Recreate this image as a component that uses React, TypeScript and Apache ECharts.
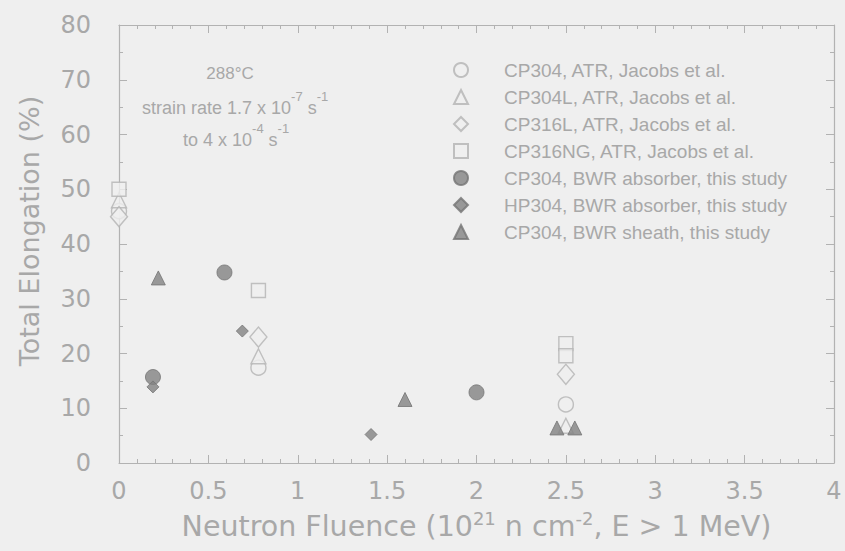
import React, { useEffect, useRef } from "react";
import * as echarts from "echarts";

// Total elongation (%) vs. neutron fluence (10^21 n/cm^2, E > 1 MeV)
const seriesNames = [
  "CP304, ATR, Jacobs et al.",
  "CP304L, ATR, Jacobs et al.",
  "CP316L, ATR, Jacobs et al.",
  "CP316NG, ATR, Jacobs et al.",
  "CP304, BWR absorber, this study",
  "HP304, BWR absorber, this study",
  "CP304, BWR sheath, this study",
];

const cp304Atr: number[][] = [[0, 46], [0.78, 17.4], [2.5, 10.7]];
const cp304lAtr: number[][] = [[0, 48], [0.78, 19.5], [2.5, 6.8]];
const cp316lAtr: number[][] = [[0, 45], [0.78, 23], [2.5, 16.2]];
const cp316ngAtr: number[][] = [[0, 50], [0.78, 31.5], [2.5, 21.8], [2.5, 19.6]];
const cp304Absorber: number[][] = [[0.19, 15.7], [0.59, 34.8], [2.0, 12.9]];
const hp304Absorber: number[][] = [[0.19, 13.9], [0.69, 24.1], [1.41, 5.2]];
const cp304Sheath: number[][] = [[0.22, 33.8], [1.6, 11.6], [2.45, 6.4], [2.55, 6.4]];

const xMin = 0;
const xMax = 4;
const xStep = 0.5;
const yMin = 0;
const yMax = 80;
const yStep = 10;

const BG = "#efefef";
const TEXT = "#a8a8a8";
const AXIS = "#b2b2b2";
const OPEN = "#b3b3b3";
const FILLED = "#828282";

const openStyle = { color: BG, borderColor: OPEN, borderWidth: 1.4 };
const filledStyle = { color: FILLED, borderColor: "#747474", borderWidth: 1 };

const frameAxis = (extra: any) => ({
  axisLine: { show: true, onZero: false, lineStyle: { color: AXIS, width: 1.2 } },
  axisTick: { show: true, inside: true, length: 8, lineStyle: { color: AXIS } },
  splitLine: { show: false },
  ...extra,
});

export default function App() {
  const ref = useRef<HTMLDivElement>(null);

  useEffect(() => {
    document.body.style.margin = "0";
    const chart = echarts.init(ref.current!, null, { renderer: "svg" });

    const xCommon = { type: "value", min: xMin, max: xMax, interval: xStep };
    const yCommon = { type: "value", min: yMin, max: yMax, interval: yStep };
    const xMinor = { show: true, splitNumber: 5, length: 4, lineStyle: { color: AXIS } };
    const yMinor = { show: true, splitNumber: 2, length: 4, lineStyle: { color: AXIS } };

    chart.setOption({
      animation: false,
      backgroundColor: BG,
      textStyle: { fontFamily: "Liberation Sans" },
      grid: { left: 119, right: 11, top: 25, bottom: 88 },
      xAxis: [
        frameAxis({
          ...xCommon,
          position: "bottom",
          minorTick: xMinor,
          axisLabel: {
            color: TEXT,
            fontSize: 24,
            fontFamily: "DejaVu Sans",
            margin: 16,
          },
          name: "{n|Neutron Fluence (10}{s|21}{n| n cm}{s|-2}{n|, E > 1 MeV)}",
          nameLocation: "middle",
          nameGap: 46,
          nameTextStyle: {
            rich: {
              n: { fontSize: 28.5, lineHeight: 34, color: TEXT, fontFamily: "DejaVu Sans" },
              s: { fontSize: 18, lineHeight: 34, color: TEXT, fontFamily: "DejaVu Sans", verticalAlign: "top" },
            },
          },
        }),
        frameAxis({
          ...xCommon,
          position: "top",
          minorTick: xMinor,
          axisLabel: { show: false },
        }),
      ],
      yAxis: [
        frameAxis({
          ...yCommon,
          position: "left",
          minorTick: yMinor,
          axisLabel: {
            color: TEXT,
            fontSize: 24,
            fontFamily: "DejaVu Sans",
            margin: 28,
          },
          name: "Total Elongation (%)",
          nameLocation: "middle",
          nameGap: 76,
          nameTextStyle: {
            color: TEXT,
            fontSize: 27,
            fontFamily: "DejaVu Sans",
            padding: [0, 0, 0, 26],
          },
        }),
        frameAxis({
          ...yCommon,
          position: "right",
          minorTick: yMinor,
          axisLabel: { show: false },
        }),
      ],
      legend: {
        orient: "vertical",
        left: 448,
        top: 55,
        itemWidth: 14,
        itemHeight: 14,
        itemGap: 7,
        selectedMode: false,
        data: seriesNames,
        textStyle: {
          color: TEXT,
          fontSize: 19,
          lineHeight: 20,
          fontFamily: "Liberation Sans",
          padding: [0, 0, 0, 31],
        },
      },
      graphic: [
        {
          type: "text",
          x: 230,
          y: 73,
          style: {
            text: "288°C",
            fill: TEXT,
            fontSize: 17,
            fontFamily: "Liberation Sans",
            align: "center",
            verticalAlign: "middle",
          },
        },
        {
          type: "text",
          x: 142,
          y: 90,
          style: {
            text: "{n|strain rate 1.7 x 10}{s|-7}{n| s}{s|-1}",
            align: "left",
            verticalAlign: "top",
            rich: {
              n: { fontSize: 18, lineHeight: 36, fill: TEXT, fontFamily: "Liberation Sans" },
              s: { fontSize: 13, lineHeight: 36, fill: TEXT, fontFamily: "Liberation Sans", verticalAlign: "top" },
            },
          },
        },
        {
          type: "text",
          x: 183,
          y: 122,
          style: {
            text: "{n|to 4 x 10}{s|-4}{n| s}{s|-1}",
            align: "left",
            verticalAlign: "top",
            rich: {
              n: { fontSize: 18, lineHeight: 36, fill: TEXT, fontFamily: "Liberation Sans" },
              s: { fontSize: 13, lineHeight: 36, fill: TEXT, fontFamily: "Liberation Sans", verticalAlign: "top" },
            },
          },
        },
      ],
      series: [
        { name: seriesNames[0], type: "scatter", symbol: "circle", symbolSize: 15, itemStyle: openStyle, data: cp304Atr },
        { name: seriesNames[1], type: "scatter", symbol: "triangle", symbolSize: 15, itemStyle: openStyle, data: cp304lAtr },
        { name: seriesNames[2], type: "scatter", symbol: "diamond", symbolSize: [17, 20], itemStyle: openStyle, data: cp316lAtr },
        { name: seriesNames[3], type: "scatter", symbol: "rect", symbolSize: 14, itemStyle: openStyle, data: cp316ngAtr },
        { name: seriesNames[4], type: "scatter", symbol: "circle", symbolSize: 15, itemStyle: filledStyle, data: cp304Absorber },
        { name: seriesNames[5], type: "scatter", symbol: "diamond", symbolSize: 12, itemStyle: filledStyle, data: hp304Absorber },
        { name: seriesNames[6], type: "scatter", symbol: "triangle", symbolSize: 14, itemStyle: filledStyle, data: cp304Sheath },
      ],
    });

    return () => chart.dispose();
  }, []);

  return (
    <div
      ref={ref}
      style={{ position: "fixed", left: 0, top: 0, width: 845, height: 551 }}
    />
  );
}
